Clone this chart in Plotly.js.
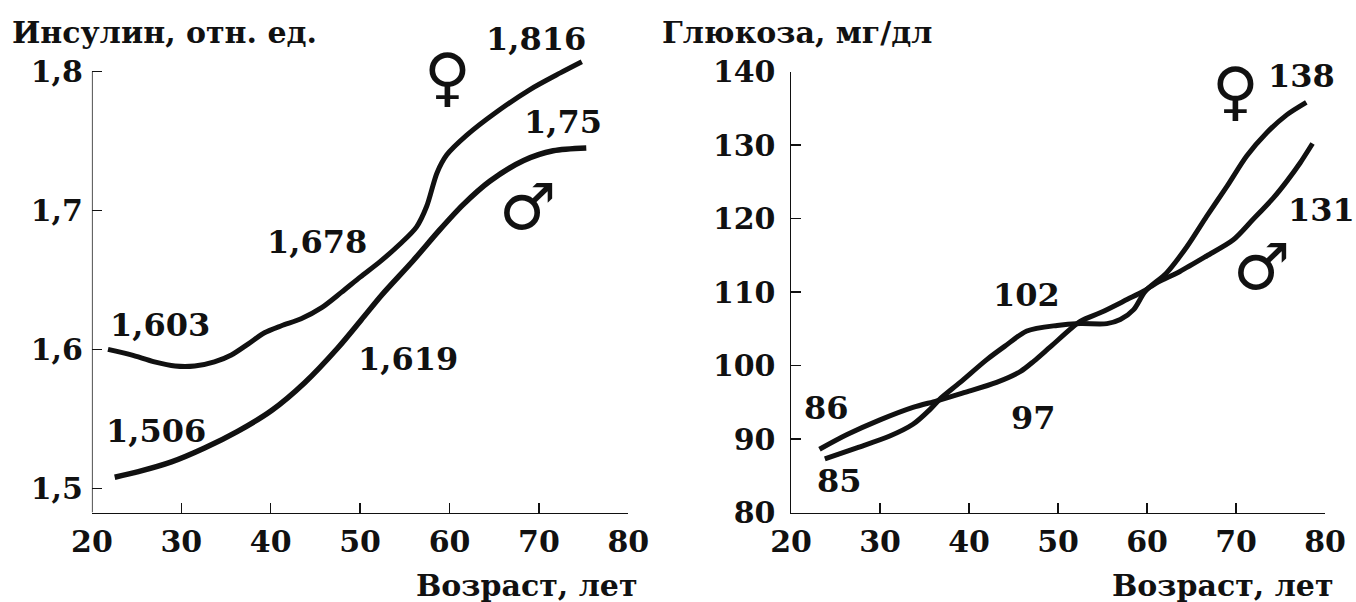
<!DOCTYPE html>
<html><head><meta charset="utf-8">
<script src="https://cdn.plot.ly/plotly-3.0.1.min.js"></script>
<style>html,body{margin:0;padding:0;background:#fff;}</style>
</head><body><div id="chart" style="width:1356px;height:602px;"></div>
<script>
// ---- data ----
const ageTicks = [20, 30, 40, 50, 60, 70, 80];
const insulinTicks = [1.5, 1.6, 1.7, 1.8];
const insulinTickText = ['1,5', '1,6', '1,7', '1,8'];
const glucoseTicks = [80, 90, 100, 110, 120, 130, 140];

const insulinFemaleAge = [21.8, 24.4, 27.0, 29.3, 31.5, 33.7, 35.6, 37.5, 39.3, 41.2, 43.4, 45.7, 47.9, 50.0, 52.2, 54.5, 56.3, 57.45, 58.6, 59.7, 61.9, 65.3, 69.0, 72.4, 74.8];
const insulinFemale = [1.600, 1.596, 1.591, 1.588, 1.588, 1.591, 1.596, 1.604, 1.612, 1.617, 1.622, 1.630, 1.641, 1.652, 1.663, 1.676, 1.688, 1.703, 1.727, 1.740, 1.754, 1.771, 1.787, 1.799, 1.807];
const insulinMaleAge = [22.55, 25.2, 28.9, 32.6, 36.3, 40.1, 43.8, 47.5, 50.1, 52.4, 55.95, 58.9, 61.5, 64.5, 68.3, 71.6, 75.3];
const insulinMale = [1.508, 1.512, 1.519, 1.529, 1.541, 1.556, 1.576, 1.601, 1.621, 1.639, 1.664, 1.686, 1.704, 1.721, 1.736, 1.743, 1.745];

const glucoseFemaleAge = [23.8, 27.4, 31.1, 33.7, 35.6, 36.7, 39.0, 42.0, 44.0, 46.5, 49.9, 52.5, 55.5, 57.0, 58.5, 59.8, 62.2, 64.5, 66.7, 69.0, 71.2, 73.4, 75.7, 77.9];
const glucoseFemale = [87.3, 88.8, 90.4, 92.0, 94.0, 95.4, 97.7, 100.8, 102.6, 104.7, 105.45, 105.7, 105.7, 106.25, 107.6, 110.1, 112.6, 116.2, 120.3, 124.4, 128.5, 131.6, 134.1, 135.8];
const glucoseMaleAge = [23.2, 26.3, 30.0, 33.7, 36.4, 39.4, 43.1, 45.8, 47.3, 49.2, 52.5, 54.8, 57.8, 59.6, 61.1, 63.7, 66.7, 69.7, 71.9, 74.2, 75.7, 77.2, 78.6];
const glucoseMale = [88.6, 90.6, 92.6, 94.3, 95.2, 96.3, 97.7, 99.2, 100.6, 102.6, 106.0, 107.2, 109.0, 110.1, 111.25, 112.8, 114.9, 117.1, 119.85, 122.8, 125.05, 127.55, 130.2];

const insulinLabels = ['1,603', '1,678', '1,816', '1,506', '1,619', '1,75'];
const glucoseLabels = ['85', '102', '138', '86', '97', '131'];

// ---- styling ----
const SERIF = 'DejaVu Serif';
const lineStyle = {color: '#111', width: 5, shape: 'spline', smoothing: 0.8};
const W = 1356, H = 602;
const px = v => v / W;
const py = v => (H - v) / H;

const traces = [
  {x: insulinFemaleAge, y: insulinFemale, xaxis: 'x', yaxis: 'y', mode: 'lines', line: lineStyle, hoverinfo: 'skip'},
  {x: insulinMaleAge, y: insulinMale, xaxis: 'x', yaxis: 'y', mode: 'lines', line: Object.assign({}, lineStyle, {width: 5.5}), hoverinfo: 'skip'},
  {x: glucoseFemaleAge, y: glucoseFemale, xaxis: 'x2', yaxis: 'y2', mode: 'lines', line: lineStyle, hoverinfo: 'skip'},
  {x: glucoseMaleAge, y: glucoseMale, xaxis: 'x2', yaxis: 'y2', mode: 'lines', line: lineStyle, hoverinfo: 'skip'}
];

const tickFont = {family: SERIF, size: 30, color: '#111', weight: 700};
const axisCommon = {
  showgrid: false, zeroline: false, ticks: 'inside', ticklen: 10, tickwidth: 1.5,
  tickcolor: '#111', linecolor: '#111', linewidth: 1.5, tickfont: tickFont,
  fixedrange: true
};

const yBottomPx = 512.5, yTopPx = 71.5;
const insTopVal = 1.815, insBotVal = 1.4826;
const insPxPer = (yBottomPx - yTopPx) / (1.8 - insBotVal);
const insTopPx = yTopPx - (insTopVal - 1.8) * insPxPer;

const layout = {
  width: W, height: H,
  margin: {l: 0, r: 0, t: 0, b: 0},
  paper_bgcolor: '#fff', plot_bgcolor: 'rgba(0,0,0,0)',
  showlegend: false,
  xaxis: Object.assign({}, axisCommon, {
    domain: [px(91.9), px(628.3)], range: [20, 80], anchor: 'y', showline: true,
    tickvals: ageTicks, ticktext: ageTicks.map(String), ticklabelstandoff: 2
  }),
  yaxis: Object.assign({}, axisCommon, {
    domain: [py(yBottomPx), py(insTopPx)], range: [insBotVal, insTopVal], anchor: 'x', showline: false,
    tickvals: insulinTicks, ticktext: insulinTickText, ticklabelstandoff: 8
  }),
  xaxis2: Object.assign({}, axisCommon, {
    domain: [px(791), px(1325)], range: [20, 80], anchor: 'y2', showline: true,
    tickvals: ageTicks, ticktext: ageTicks.map(String), ticklabelstandoff: 2
  }),
  yaxis2: Object.assign({}, axisCommon, {
    domain: [py(yBottomPx), py(yTopPx)], range: [80, 140], anchor: 'x2', showline: true,
    tickvals: glucoseTicks, ticktext: glucoseTicks.map(String), ticklabelstandoff: 8
  }),
  shapes: [
    {type: 'line', xref: 'x', yref: 'y', x0: 20, x1: 20, y0: insBotVal, y1: 1.8, line: {color: '#111', width: 1.5}}
  ],
  annotations: []
};

const numFont = {family: SERIF, size: 32, color: '#111', weight: 700};
const titleFont = {family: SERIF, size: 30, color: '#111', weight: 700};
const symFont = {family: 'DejaVu Sans', size: 64, color: '#111'};
function ann(text, x, y, font, extra) {
  layout.annotations.push(Object.assign({text, x: px(x), y: py(y), xref: 'paper', yref: 'paper', showarrow: false, font, xanchor: 'center', yanchor: 'middle'}, extra || {}));
}
// titles
ann('Инсулин, отн. ед.', 10, 33, titleFont, {xanchor: 'left'});
ann('Глюкоза, мг/дл', 660, 33, titleFont, {xanchor: 'left'});
ann('Возраст, лет', 640, 585, titleFont, {xanchor: 'right'});
ann('Возраст, лет', 1336, 585, titleFont, {xanchor: 'right'});
// insulin value labels (pixel positions)
const insPos = [[160, 324.5], [317, 242], [536, 39], [156.3, 431], [408, 359], [562.5, 122]];
insulinLabels.forEach((t, i) => ann(t, insPos[i][0], insPos[i][1], numFont));
// glucose value labels
const gluPos = [[839.5, 481], [1026, 295], [1301, 75.5], [826.5, 408], [1033, 418], [1321, 210]];
glucoseLabels.forEach((t, i) => ann(t, gluPos[i][0], gluPos[i][1], numFont));
// sex symbols
ann('♀', 447, 77, symFont);
ann('♂', 527, 207, symFont);
ann('♀', 1235, 91, symFont);
ann('♂', 1261, 266.5, symFont);

Plotly.newPlot('chart', traces, layout, {staticPlot: true, displayModeBar: false});
</script>
</body></html>
